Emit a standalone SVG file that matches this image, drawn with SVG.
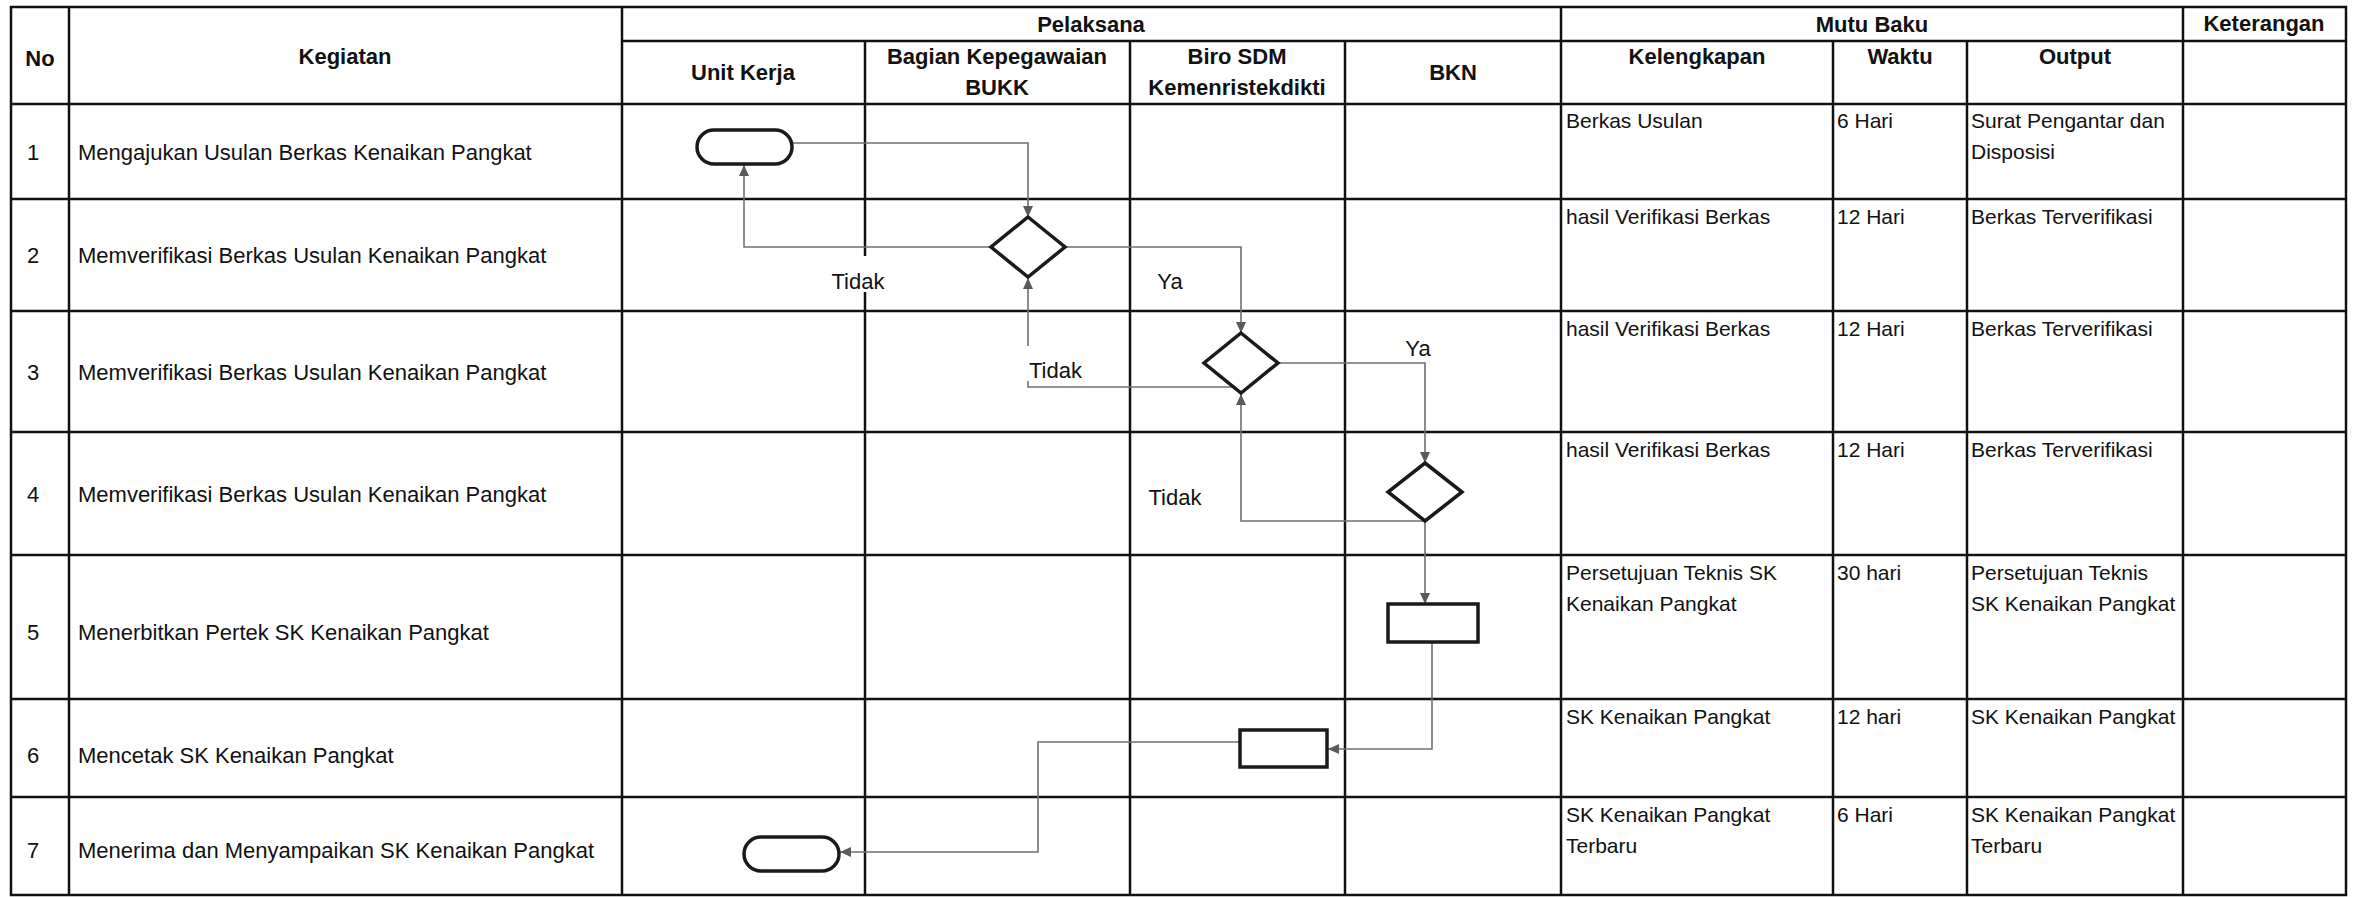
<svg xmlns="http://www.w3.org/2000/svg" width="2361" height="897" viewBox="0 0 2361 897">
<style>
  text { font-family: "Liberation Sans", Arial, sans-serif; font-size: 22px; fill: #111; }
  .h { font-weight: bold; font-size: 22px; text-anchor: middle; }
  .c { text-anchor: middle; }
  .m { font-size: 21px; }
  .grid line { stroke: #111; stroke-width: 2.5; }
  .shape { fill: #fff; stroke: #1a1a1a; stroke-width: 3.5; }
  .conn path { fill: none; stroke: #707070; stroke-width: 1.6; }
  .lblbg { fill: #fff; }
</style>
<defs>
  <marker id="arr" markerUnits="userSpaceOnUse" markerWidth="12" markerHeight="10" refX="11" refY="5" orient="auto">
    <path d="M0,0 L11,5 L0,10 Z" fill="#5a5a5a"/>
  </marker>
</defs>
<rect x="0" y="0" width="2361" height="897" fill="#fff"/>

<g id="table" class="grid">
  <rect x="11" y="7" width="2335" height="888" fill="none" stroke="#111" stroke-width="2.5"/>
  <line x1="69" y1="7" x2="69" y2="895"/>
  <line x1="622" y1="7" x2="622" y2="895"/>
  <line x1="865" y1="41" x2="865" y2="895"/>
  <line x1="1130" y1="41" x2="1130" y2="895"/>
  <line x1="1345" y1="41" x2="1345" y2="895"/>
  <line x1="1561" y1="7" x2="1561" y2="895"/>
  <line x1="1833" y1="41" x2="1833" y2="895"/>
  <line x1="1967" y1="41" x2="1967" y2="895"/>
  <line x1="2183" y1="7" x2="2183" y2="895"/>
  <line x1="622" y1="41" x2="2346" y2="41"/>
  <line x1="11" y1="104" x2="2346" y2="104"/>
  <line x1="11" y1="199" x2="2346" y2="199"/>
  <line x1="11" y1="311" x2="2346" y2="311"/>
  <line x1="11" y1="432" x2="2346" y2="432"/>
  <line x1="11" y1="555" x2="2346" y2="555"/>
  <line x1="11" y1="699" x2="2346" y2="699"/>
  <line x1="11" y1="797" x2="2346" y2="797"/>
</g>

<g id="header">
  <text class="h" x="40" y="66">No</text>
  <text class="h" x="345" y="64">Kegiatan</text>
  <text class="h" x="1091" y="32">Pelaksana</text>
  <text class="h" x="1872" y="32">Mutu Baku</text>
  <text class="h" x="2264" y="31">Keterangan</text>
  <text class="h" x="743" y="80">Unit Kerja</text>
  <text class="h" x="997" y="64">Bagian Kepegawaian</text>
  <text class="h" x="997" y="95">BUKK</text>
  <text class="h" x="1237" y="64">Biro SDM</text>
  <text class="h" x="1237" y="95">Kemenristekdikti</text>
  <text class="h" x="1453" y="80">BKN</text>
  <text class="h" x="1697" y="64">Kelengkapan</text>
  <text class="h" x="1900" y="64">Waktu</text>
  <text class="h" x="2075" y="64">Output</text>
</g>

<g id="rows">
  <text class="c" x="33" y="160">1</text>
  <text x="78" y="160">Mengajukan Usulan Berkas Kenaikan Pangkat</text>
  <text class="c" x="33" y="263">2</text>
  <text x="78" y="263">Memverifikasi Berkas Usulan Kenaikan Pangkat</text>
  <text class="c" x="33" y="380">3</text>
  <text x="78" y="380">Memverifikasi Berkas Usulan Kenaikan Pangkat</text>
  <text class="c" x="33" y="502">4</text>
  <text x="78" y="502">Memverifikasi Berkas Usulan Kenaikan Pangkat</text>
  <text class="c" x="33" y="640">5</text>
  <text x="78" y="640">Menerbitkan Pertek SK Kenaikan Pangkat</text>
  <text class="c" x="33" y="763">6</text>
  <text x="78" y="763">Mencetak SK Kenaikan Pangkat</text>
  <text class="c" x="33" y="858">7</text>
  <text x="78" y="858">Menerima dan Menyampaikan SK Kenaikan Pangkat</text>

  <text class="m" x="1566" y="128">Berkas Usulan</text>
  <text class="m" x="1837" y="128">6 Hari</text>
  <text class="m" x="1971" y="128">Surat Pengantar dan</text>
  <text class="m" x="1971" y="159">Disposisi</text>

  <text class="m" x="1566" y="224">hasil Verifikasi Berkas</text>
  <text class="m" x="1837" y="224">12 Hari</text>
  <text class="m" x="1971" y="224">Berkas Terverifikasi</text>

  <text class="m" x="1566" y="336">hasil Verifikasi Berkas</text>
  <text class="m" x="1837" y="336">12 Hari</text>
  <text class="m" x="1971" y="336">Berkas Terverifikasi</text>

  <text class="m" x="1566" y="457">hasil Verifikasi Berkas</text>
  <text class="m" x="1837" y="457">12 Hari</text>
  <text class="m" x="1971" y="457">Berkas Terverifikasi</text>

  <text class="m" x="1566" y="580">Persetujuan Teknis SK</text>
  <text class="m" x="1566" y="611">Kenaikan Pangkat</text>
  <text class="m" x="1837" y="580">30 hari</text>
  <text class="m" x="1971" y="580">Persetujuan Teknis</text>
  <text class="m" x="1971" y="611">SK Kenaikan Pangkat</text>

  <text class="m" x="1566" y="724">SK Kenaikan Pangkat</text>
  <text class="m" x="1837" y="724">12 hari</text>
  <text class="m" x="1971" y="724">SK Kenaikan Pangkat</text>

  <text class="m" x="1566" y="822">SK Kenaikan Pangkat</text>
  <text class="m" x="1566" y="853">Terbaru</text>
  <text class="m" x="1837" y="822">6 Hari</text>
  <text class="m" x="1971" y="822">SK Kenaikan Pangkat</text>
  <text class="m" x="1971" y="853">Terbaru</text>
</g>

<g id="connectors" class="conn">
  <path d="M792,143 H1028 V217" marker-end="url(#arr)"/>
  <path d="M991,247 H744 V165" marker-end="url(#arr)"/>
  <path d="M1065,247 H1241 V333" marker-end="url(#arr)"/>
  <path d="M1235,387 H1028 V278" marker-end="url(#arr)"/>
  <path d="M1278,363 H1425 V463" marker-end="url(#arr)"/>
  <path d="M1425,521 H1241 V394" marker-end="url(#arr)"/>
  <path d="M1425,521 V604" marker-end="url(#arr)"/>
  <path d="M1432,642 V749 H1328" marker-end="url(#arr)"/>
  <path d="M1240,742 H1038 V852 H840" marker-end="url(#arr)"/>
</g>

<g id="labels">
  <rect class="lblbg" x="828" y="256" width="60" height="36"/>
  <text class="c" x="858" y="289">Tidak</text>
  <text class="c" x="1170" y="289">Ya</text>
  <rect class="lblbg" x="1024" y="346" width="62" height="35"/>
  <text x="1029" y="378">Tidak</text>
  <text class="c" x="1418" y="356">Ya</text>
  <text class="c" x="1175" y="505">Tidak</text>
</g>

<g id="start"><rect class="shape" x="697" y="130" width="95" height="34" rx="17"/></g>
<g id="verify1"><polygon class="shape" points="1028,217 1065,247 1028,277 991,247"/></g>
<g id="verify2"><polygon class="shape" points="1241,333 1278,363 1241,393 1204,363"/></g>
<g id="verify3"><polygon class="shape" points="1425,463 1462,492 1425,521 1388,492"/></g>
<g id="pertek"><rect class="shape" x="1388" y="604" width="90" height="38"/></g>
<g id="cetak"><rect class="shape" x="1240" y="730" width="87" height="37"/></g>
<g id="end"><rect class="shape" x="744" y="837" width="95" height="34" rx="17"/></g>
</svg>
